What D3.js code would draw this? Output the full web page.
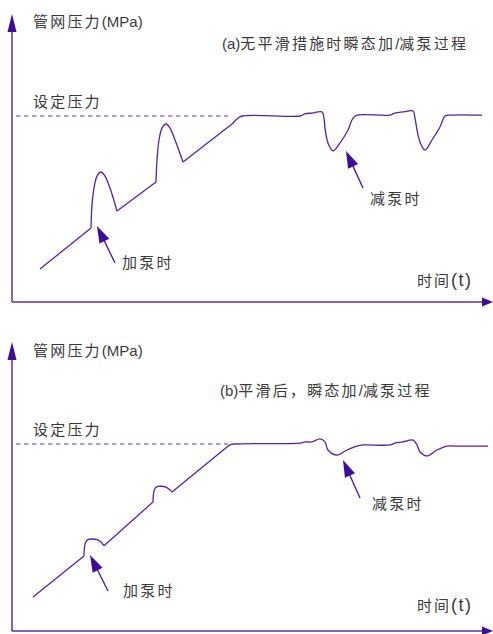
<!DOCTYPE html>
<html><head><meta charset="utf-8">
<script src="https://cdn.jsdelivr.net/npm/d3@7"></script>
<style>html,body{margin:0;padding:0;background:#fff;}svg{display:block;}</style>
</head><body>
<script>
// ---- data (time t in s, pressure p in % of set pressure) ----
const panelTitles = ["(a)无平滑措施时瞬态加/减泵过程", "(b)平滑后，瞬态加/减泵过程"];
const yAxisLabel = "管网压力(MPa)";
const xAxisLabel = "时间";
const xAxisUnit = "(t)";
const setLabel = "设定压力";
const setPressure = 100;
const addLabel = "加泵时";
const cutLabel = "减泵时";

const tA = [28,79,80,82,85,89,93,98,105,144,145,147,150,154,158,163,171,220,225,230,288,293,300,310,312,313,316,321,328,336,341,345,378,383,391,401,403,405,408,413,420,428,433,438,470];
const pA = [17.7,39.8,52.2,61.3,67.7,69.9,67.7,61.3,48.9,64.5,76.3,87.1,93.5,95.7,93.5,87.1,75.3,95.7,98.4,100,100,101.1,101.6,102.2,98.9,93.5,85.5,81.2,85.5,92.5,98.9,100.5,100.5,101.6,102.2,102.7,98.9,92.5,86.0,81.7,87.1,94.1,100,100.5,100.5];
// sharp corners (pump switched on / ramp segments)
const cornersA = [79,105,144,171,220];

const tB = [21,72,72.4,73.5,76,80,85,89,91,92,141,141.4,142.5,145,149,154,158,160,215,218,222,288,293,300,308,313,316,325,335,345,351,378,383,391,401,405,408,415,425,435,443,476];
const pB = [18.2,40.1,44.2,47.3,48.9,49.2,48.9,47.6,46.3,45.6,69.0,73.0,75.8,77.2,77.4,76.9,75.4,74.3,98.4,99.5,100,100.5,101.1,101.1,102.7,101.1,96.8,94.1,96.8,98.9,99.5,99.5,100.5,101.1,102.1,99.5,95.7,93.6,96.8,98.9,98.9,98.9];
const cornersB = [72,92,141,160,215];

// annotation arrows: [tipT, tipP, tailT, tailP]
const arrowsA = [[85,40.9,103,21.0],[334,81.2,351,61.3]];
const arrowsB = [[78,40.6,96,21.4],[331,91.4,348,71.1]];

// ---- layout ----
const W = 493, H = 634;
const svg = d3.select("body").append("svg").attr("width", W).attr("height", H);
const cjk = "'Noto Sans CJK SC', 'Noto Sans', sans-serif";
const lat = "'Liberation Sans', Arial, sans-serif";
const txtCol = "#3a3a3a";
const lineCol = "#5522aa";
const axisCol = "#5a2db5";
const headCol = "#3d0d99";
const dashCol = "#9b7ed6";

const panels = [
  {t: tA, p: pA, corners: cornersA, arrows: arrowsA, title: panelTitles[0], axisY: 302, setY: 116, top: 14,
   yLab: 27, titleY: 49, setLabY: 107, xLabY: 286, addPos: [122, 268], cutPos: [370, 204], titleX: 222},
  {t: tB, p: pB, corners: cornersB, arrows: arrowsB, title: panelTitles[1], axisY: 631, setY: 444, top: 342,
   yLab: 356, titleY: 396, setLabY: 435, xLabY: 611, addPos: [123, 596], cutPos: [372, 509], titleX: 220}
];

function mixedText(g, x, y, parts, size) {
  const t = g.append("text").attr("x", x).attr("y", y).attr("fill", txtCol).attr("font-size", size);
  parts.forEach(([s, isCjk, fs, ls]) => {
    t.append("tspan").text(s)
      .attr("font-family", isCjk ? cjk : lat)
      .attr("font-size", fs || size)
      .attr("letter-spacing", ls != null ? ls : (isCjk ? 2.2 : 0));
  });
  return t;
}

function splitParts(s) {
  const out = [];
  const re = /([\u3000-\u9fff\uff00-\uffef]+)|([^\u3000-\u9fff\uff00-\uffef]+)/g;
  let m;
  while ((m = re.exec(s))) out.push([m[0], !!m[1]]);
  return out;
}

panels.forEach(P => {
  const g = svg.append("g");
  const x = d3.scaleLinear().domain([0, 481]).range([12, 493]);
  const y = d3.scaleLinear().domain([0, setPressure]).range([P.axisY, P.setY]);

  // axes
  g.append("line").attr("x1", x(0)).attr("x2", x(0)).attr("y1", P.axisY).attr("y2", P.top + 10)
    .attr("stroke", axisCol).attr("stroke-width", 1.5);
  g.append("line").attr("x1", x(0)).attr("x2", x(481) - 8).attr("y1", P.axisY).attr("y2", P.axisY)
    .attr("stroke", axisCol).attr("stroke-width", 1.5);
  g.append("path").attr("d", `M${x(0)},${P.top} L${x(0) - 4.5},${P.top + 18} L${x(0) + 4.5},${P.top + 18} Z`)
    .attr("fill", headCol);
  g.append("path").attr("d", `M${x(481)},${P.axisY} L${x(481) - 11},${P.axisY - 4.5} L${x(481) - 11},${P.axisY + 4.5} Z`)
    .attr("fill", headCol);

  // set-pressure dashed line
  g.append("line").attr("x1", x(4)).attr("x2", x(216)).attr("y1", y(setPressure)).attr("y2", y(setPressure))
    .attr("stroke", dashCol).attr("stroke-width", 1.5).attr("stroke-dasharray", "4.5,3.5");

  // curve: split into pieces at sharp corners, each piece smoothed
  const data = P.t.map((t, i) => [t, P.p[i]]);
  const pieces = [];
  let cur = [];
  data.forEach(d => {
    cur.push(d);
    if (P.corners.includes(d[0])) { pieces.push(cur); cur = [d]; }
  });
  if (cur.length > 1) pieces.push(cur);
  const line = d3.line().x(d => x(d[0])).y(d => y(d[1])).curve(d3.curveCatmullRom.alpha(0.5));
  const dStr = pieces.map(pc => line(pc)).join("");
  g.append("path").attr("d", dStr).attr("fill", "none")
    .attr("stroke", lineCol).attr("stroke-width", 1.3).attr("stroke-linejoin", "round");

  // annotation arrows
  P.arrows.forEach(a => {
    const x1 = x(a[2]), y1 = y(a[3]), x2 = x(a[0]), y2 = y(a[1]);
    const dx = x2 - x1, dy = y2 - y1, L = Math.hypot(dx, dy);
    const ux = dx / L, uy = dy / L, hl = 17, hw = 5.5;
    const bx = x2 - ux * hl, by = y2 - uy * hl;
    g.append("line").attr("x1", x1).attr("y1", y1).attr("x2", bx + ux * 2).attr("y2", by + uy * 2)
      .attr("stroke", "#4a1fa8").attr("stroke-width", 1.4);
    g.append("path").attr("d", `M${x2},${y2} L${bx - uy * hw},${by + ux * hw} L${bx + uy * hw},${by - ux * hw} Z`)
      .attr("fill", headCol);
  });

  // texts
  mixedText(g, 33, P.yLab, splitParts(yAxisLabel), 15);
  mixedText(g, P.titleX, P.titleY, splitParts(P.title), 15);
  mixedText(g, 33, P.setLabY, [[setLabel, true]], 15);
  mixedText(g, 417, P.xLabY, [[xAxisLabel, true, 15, 2], [xAxisUnit, false, 18, 1.5]], 15);
  mixedText(g, P.addPos[0], P.addPos[1], [[addLabel, true]], 15);
  mixedText(g, P.cutPos[0], P.cutPos[1], [[cutLabel, true]], 15);
});
</script>
</body></html>
